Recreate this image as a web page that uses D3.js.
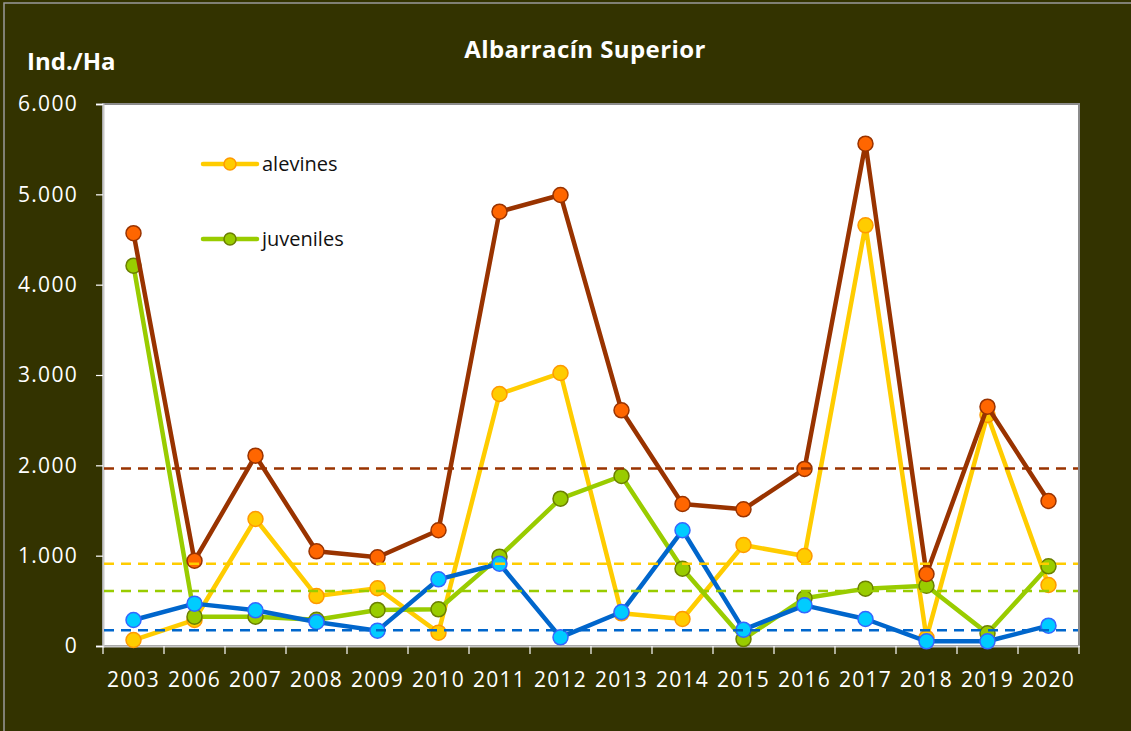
<!DOCTYPE html>
<html>
<head>
<meta charset="utf-8">
<script src="https://cdn.jsdelivr.net/npm/d3@7"></script>
<style>
  body { margin: 0; background: #333300; }
  svg { display: block; font-family: "Open Sans", Lato, sans-serif; }
</style>
</head>
<body>
<script>
    var years = ["2003","2006","2007","2008","2009","2010","2011","2012","2013","2014","2015","2016","2017","2018","2019","2020"];

    // series values (Ind./Ha)
    var total     = [4570, 944, 2107, 1048, 982, 1281, 4808, 4993, 2609, 1572, 1513, 1960, 5561, 797, 2649, 1605];
    var alevines  = [66, 288, 1406, 553, 639, 148, 2790, 3022, 362, 299, 1118, 996, 4657, 90, 2557, 675];
    var juveniles = [4210, 325, 325, 290, 399, 406, 989, 1631, 1882, 856, 77, 528, 635, 668, 140, 882];
    var adultos   = [288, 469, 395, 266, 170, 738, 911, 96, 376, 1281, 181, 450, 299, 52, 52, 225];

    // dashed reference lines (means): total, alevines, juveniles, adultos
    var medias = [1965, 910, 610, 175];

    var yTicks = [0, 1000, 2000, 3000, 4000, 5000, 6000];
    var legendNames = ["alevines", "juveniles"];

    var worldWidth = 1131;
    var worldHeight = 731;

    var svg = d3.select("body").append("svg")
      .attr("width", worldWidth)
      .attr("height", worldHeight);

    // outer frame
    svg.append("rect")
      .attr("x", 4).attr("y", 3)
      .attr("width", worldWidth).attr("height", worldHeight)
      .attr("fill", "#333300")
      .attr("stroke", "#9a9a9a")
      .attr("stroke-width", 1.5);

    var plotLeft = 103, plotRight = 1079, plotTop = 104, plotBottom = 646;

    var x = d3.scaleBand().domain(years).range([plotLeft, plotRight]);
    var y = d3.scaleLinear().domain([0, 6000]).range([plotBottom, plotTop]);

    var fmt = function(v) { return d3.format(",")(v).replace(/,/g, "."); };

    svg.append("rect")
      .attr("x", plotLeft).attr("y", plotTop)
      .attr("width", plotRight - plotLeft).attr("height", plotBottom - plotTop)
      .attr("fill", "white")
      .attr("stroke", "#8c8c8c")
      .attr("stroke-width", 2);

    // y axis
    var yAxis = svg.append("g")
      .attr("transform", "translate(" + plotLeft + ",0)")
      .call(d3.axisLeft(y).tickValues(yTicks).tickSize(7).tickPadding(18).tickFormat(fmt));
    yAxis.attr("font-family", null);
    yAxis.select(".domain").attr("stroke", "#c8c8c8").attr("stroke-width", 2);
    yAxis.selectAll(".tick line").attr("stroke", "white").attr("stroke-width", 1.2);
    yAxis.selectAll("text").attr("fill", "white").attr("font-size", 21)
      .attr("letter-spacing", 1.3);

    // x axis: ticks on band edges
    var xAxis = svg.append("g")
      .attr("transform", "translate(0," + plotBottom + ")")
      .call(d3.axisBottom(x).tickSize(0).tickPadding(26));
    xAxis.attr("font-family", null);
    xAxis.select(".domain").attr("stroke", "#c8c8c8").attr("stroke-width", 2);
    xAxis.selectAll("text").attr("fill", "white").attr("font-size", 21)
      .attr("letter-spacing", 1.3);
    var edges = years.map(function(d) { return x(d); }).concat([plotRight]);
    xAxis.selectAll("line.edge").data(edges).enter()
      .append("line")
      .attr("class", "edge")
      .attr("x1", function(d) { return d; }).attr("x2", function(d) { return d; })
      .attr("y1", 0).attr("y2", 8)
      .attr("stroke", "white").attr("stroke-width", 1.2);

    var cx = function(d, i) { return x(years[i]) + x.bandwidth() / 2; };

    var series = [
      { name: "alevines",  values: alevines,  line: "#FFCC00", fill: "#FFCC00", stroke: "#FF9900" },
      { name: "juveniles", values: juveniles, line: "#99CC00", fill: "#99CC00", stroke: "#6B7F00" },
      { name: "adultos",   values: adultos,   line: "#0066CC", fill: "#00CCFF", stroke: "#3366FF" },
      { name: "total",     values: total,     line: "#993300", fill: "#FF6600", stroke: "#993300" }
    ];

    var lineFunction = d3.line()
      .x(cx)
      .y(function(d) { return y(d); });

    series.forEach(function(s) {
      var g = svg.append("g");
      g.append("path")
        .attr("d", lineFunction(s.values))
        .attr("fill", "none")
        .attr("stroke", s.line)
        .attr("stroke-width", 4.5)
        .attr("stroke-linejoin", "round");
      g.selectAll("circle").data(s.values).enter()
        .append("circle")
        .attr("cx", cx)
        .attr("cy", function(d) { return y(d); })
        .attr("r", 7.5)
        .attr("fill", s.fill)
        .attr("stroke", s.stroke)
        .attr("stroke-width", 1.5);
    });

    // dashed mean lines on top
    svg.selectAll("line.media").data(medias).enter()
      .append("line")
      .attr("class", "media")
      .attr("x1", plotLeft + 1).attr("x2", plotRight - 1)
      .attr("y1", function(d) { return y(d); })
      .attr("y2", function(d) { return y(d); })
      .attr("stroke", function(d, i) { return series[(i + 3) % 4].line; })
      .attr("stroke-width", 2.5)
      .attr("stroke-dasharray", "10,7");

    // legend
    var legend = svg.selectAll("g.legend").data(legendNames).enter()
      .append("g")
      .attr("class", "legend")
      .attr("transform", function(d, i) { return "translate(203," + (164 + i * 75) + ")"; });
    legend.append("line")
      .attr("x1", 0).attr("x2", 54).attr("y1", 0).attr("y2", 0)
      .attr("stroke", function(d, i) { return series[i].line; })
      .attr("stroke-width", 4.5)
      .attr("stroke-linecap", "round");
    legend.append("circle")
      .attr("cx", 27).attr("r", 6)
      .attr("fill", function(d, i) { return series[i].fill; })
      .attr("stroke", function(d, i) { return series[i].stroke; })
      .attr("stroke-width", 1.5);
    legend.append("text")
      .attr("x", 59).attr("dy", "0.35em")
      .attr("font-size", 20)
      .attr("fill", "#111")
      .text(function(d) { return d; });

    // titles
    svg.append("text")
      .attr("x", 585).attr("y", 58)
      .attr("text-anchor", "middle")
      .attr("font-size", 24)
      .attr("font-weight", "bold")
      .attr("letter-spacing", 0.4)
      .attr("fill", "white")
      .text("Albarracín Superior");

    svg.append("text")
      .attr("x", 27).attr("y", 70)
      .attr("font-size", 24)
      .attr("font-weight", "bold")
      .attr("fill", "white")
      .text("Ind./Ha");
</script>
</body>
</html>
